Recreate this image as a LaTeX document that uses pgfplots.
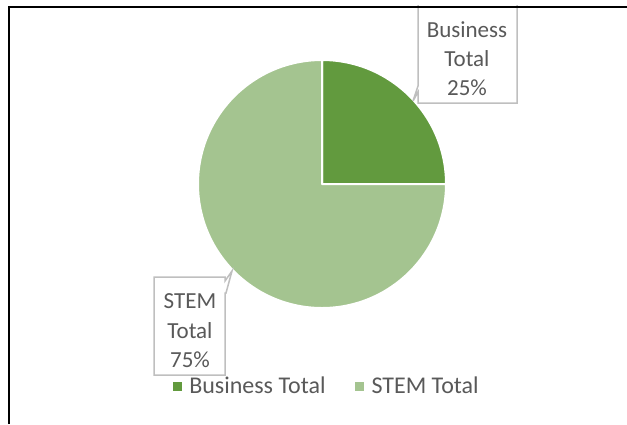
\documentclass[border=0pt]{standalone}
\usepackage{pgfplots}
\pgfplotsset{compat=1.18}
\usepackage{pgfplotstable}
\usepackage{fontspec}
\setmainfont{Carlito}
\definecolor{dkgreen}{HTML}{629A3E}
\definecolor{ltgreen}{HTML}{A4C490}
\definecolor{txt}{HTML}{595959}
\definecolor{boxgray}{HTML}{BFBFBF}

\pgfplotstableread{
name value
Business 25
STEM 75
}\piedata

\begin{document}
\begin{tikzpicture}
\pgfplotstablegetelem{0}{value}\of\piedata \edef\vb{\pgfplotsretval}
\pgfplotstablegetelem{1}{value}\of\piedata \edef\vs{\pgfplotsretval}
\pgfmathsetmacro\total{\vb+\vs}
\pgfmathsetmacro\ab{90-360*\vb/\total}
\begin{axis}[name=ax,
    x=1pt, y=1pt, y dir=reverse,
    xmin=0, xmax=627, ymin=0, ymax=424,
    hide axis, clip=false, scale only axis,
    legend columns=2,
    legend cell align=left,
    legend style={draw=none, fill=none, at={(axis cs:327,386)}, anchor=center,
        font=\fontsize{24}{27}\selectfont\color{txt},
        /tikz/every odd column/.append style={column sep=6pt},
        /tikz/every even column/.append style={column sep=28pt}},
]
    % slices
    \filldraw[fill=dkgreen, draw=white, line width=2pt, line join=round]
        (axis cs:322,184) -- ++(90:124pt) arc[start angle=90, end angle=\ab, radius=124pt] -- cycle;
    \filldraw[fill=ltgreen, draw=white, line width=2pt, line join=round]
        (axis cs:322,184) -- ++(\ab:124pt) arc[start angle=\ab, end angle=-270, radius=124pt] -- cycle;

    % callouts
    \draw[boxgray, line width=1.5pt, fill=white]
        (axis cs:418,5) -- (axis cs:418,86) -- (axis cs:413,101) -- (axis cs:418,92)
        -- (axis cs:418,103) -- (axis cs:517,103) -- (axis cs:517,5);
    \draw[boxgray, line width=1.5pt, fill=white]
        (axis cs:154,277) -- (axis cs:225,277) -- (axis cs:225,281) -- (axis cs:232,271)
        -- (axis cs:226,293) -- (axis cs:225,293) -- (axis cs:225,375) -- (axis cs:154,375) -- cycle;
    \begin{scope}[font=\fontsize{23}{28}\selectfont, text=txt]
        \node[anchor=base] at (axis cs:467,37) {Business};
        \node[anchor=base] at (axis cs:467,66) {Total};
        \node[anchor=base] at (axis cs:467,95) {\vb\%};
        \node[anchor=base] at (axis cs:190,308) {STEM};
        \node[anchor=base] at (axis cs:190,338) {Total};
        \node[anchor=base] at (axis cs:190,367) {\vs\%};
    \end{scope}

    % frame
    \draw[line width=2pt, black] (axis cs:9,424) -- (axis cs:9,7) -- (axis cs:627,7);

    \addlegendimage{only marks, mark=square*, mark size=4pt, color=dkgreen}
    \addlegendentry{Business Total}
    \addlegendimage{only marks, mark=square*, mark size=4pt, color=ltgreen}
    \addlegendentry{STEM Total}
\end{axis}
\pgfresetboundingbox
\path (ax.south west) rectangle (ax.north east);
\end{tikzpicture}
\end{document}
